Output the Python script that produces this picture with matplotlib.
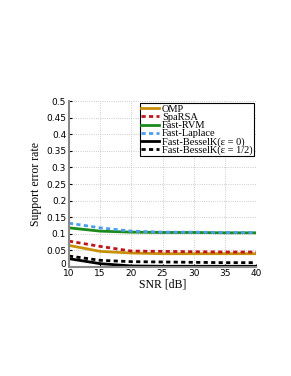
import matplotlib
matplotlib.use("Agg")
import matplotlib.pyplot as plt
import matplotlib.transforms as mtransforms

# SNR values and support error rates
snr = [10, 15, 20, 25, 30, 35, 40]
omp = [0.065, 0.047, 0.042, 0.040, 0.040, 0.040, 0.040]
sparsa = [0.078, 0.062, 0.048, 0.047, 0.046, 0.045, 0.045]
fast_rvm = [0.118, 0.108, 0.105, 0.104, 0.104, 0.103, 0.103]
fast_laplace = [0.132, 0.118, 0.108, 0.105, 0.105, 0.104, 0.104]
besselk_0 = [0.025, 0.010, 0.003, 0.002, 0.002, 0.002, 0.002]
besselk_half = [0.033, 0.020, 0.016, 0.015, 0.014, 0.013, 0.013]

fig = plt.figure(figsize=(2.91, 3.76), dpi=100)
ax = fig.add_axes([0.237, 0.290, 0.643, 0.441])

dots = (0, (1.5, 1.2))
ax.plot(snr, omp, color="#c8900a", lw=2, label="OMP")
ax.plot(snr, sparsa, color="#c0141c", lw=2, ls=dots, label="SpaRSA")
ax.plot(snr, fast_rvm, color="#1a8a1a", lw=2, label="Fast-RVM")
ax.plot(snr, fast_laplace, color="#4a9ee8", lw=2, ls=dots, label="Fast-Laplace")
ax.plot(snr, besselk_0, color="black", lw=2, label="Fast-BesselK(ε = 0)")
ax.plot(snr, besselk_half, color="black", lw=2, ls=dots, label="Fast-BesselK(ε = 1/2)")

ax.set_xlim(10, 40)
ax.set_ylim(0, 0.5)
ax.set_xticks([10, 15, 20, 25, 30, 35, 40])
ax.set_yticks([0, 0.05, 0.1, 0.15, 0.2, 0.25, 0.3, 0.35, 0.4, 0.45, 0.5])
ax.set_yticklabels(["0", "0.05", "0.1", "0.15", "0.2", "0.25", "0.3", "0.35", "0.4", "0.45", "0.5"])
ax.tick_params(labelsize=6.5, length=2, direction="in")
ax.tick_params(axis="x", pad=1.5)
ax.tick_params(axis="y", pad=2)
ax.grid(True, ls=":", color="#bbbbbb", lw=0.6)

# lift the "0" label a little so it clears the "10" below it
lbl0 = ax.get_yticklabels()[0]
lbl0.set_transform(lbl0.get_transform() + mtransforms.ScaledTranslation(0, 2.5 / 72, fig.dpi_scale_trans))

for s in ["top", "right"]:
    ax.spines[s].set_visible(False)
for s in ["left", "bottom"]:
    ax.spines[s].set_color("#888888")
    ax.spines[s].set_linewidth(1.5)

ax.set_xlabel("SNR [dB]", family="Liberation Serif", fontsize=8.5, labelpad=0)
ax.set_ylabel("Support error rate", family="Liberation Serif", fontsize=8.5, labelpad=3)

leg = ax.legend(loc="upper right", prop={"family": "Liberation Serif", "size": 7.5},
                frameon=True, fancybox=False, handlelength=1.7, handletextpad=0.25,
                labelspacing=-0.12, borderpad=0.15, borderaxespad=0.2)
leg.get_frame().set_edgecolor("black")
leg.get_frame().set_linewidth(0.8)
leg.get_frame().set_alpha(1)

fig.savefig("out.png", dpi=100)
